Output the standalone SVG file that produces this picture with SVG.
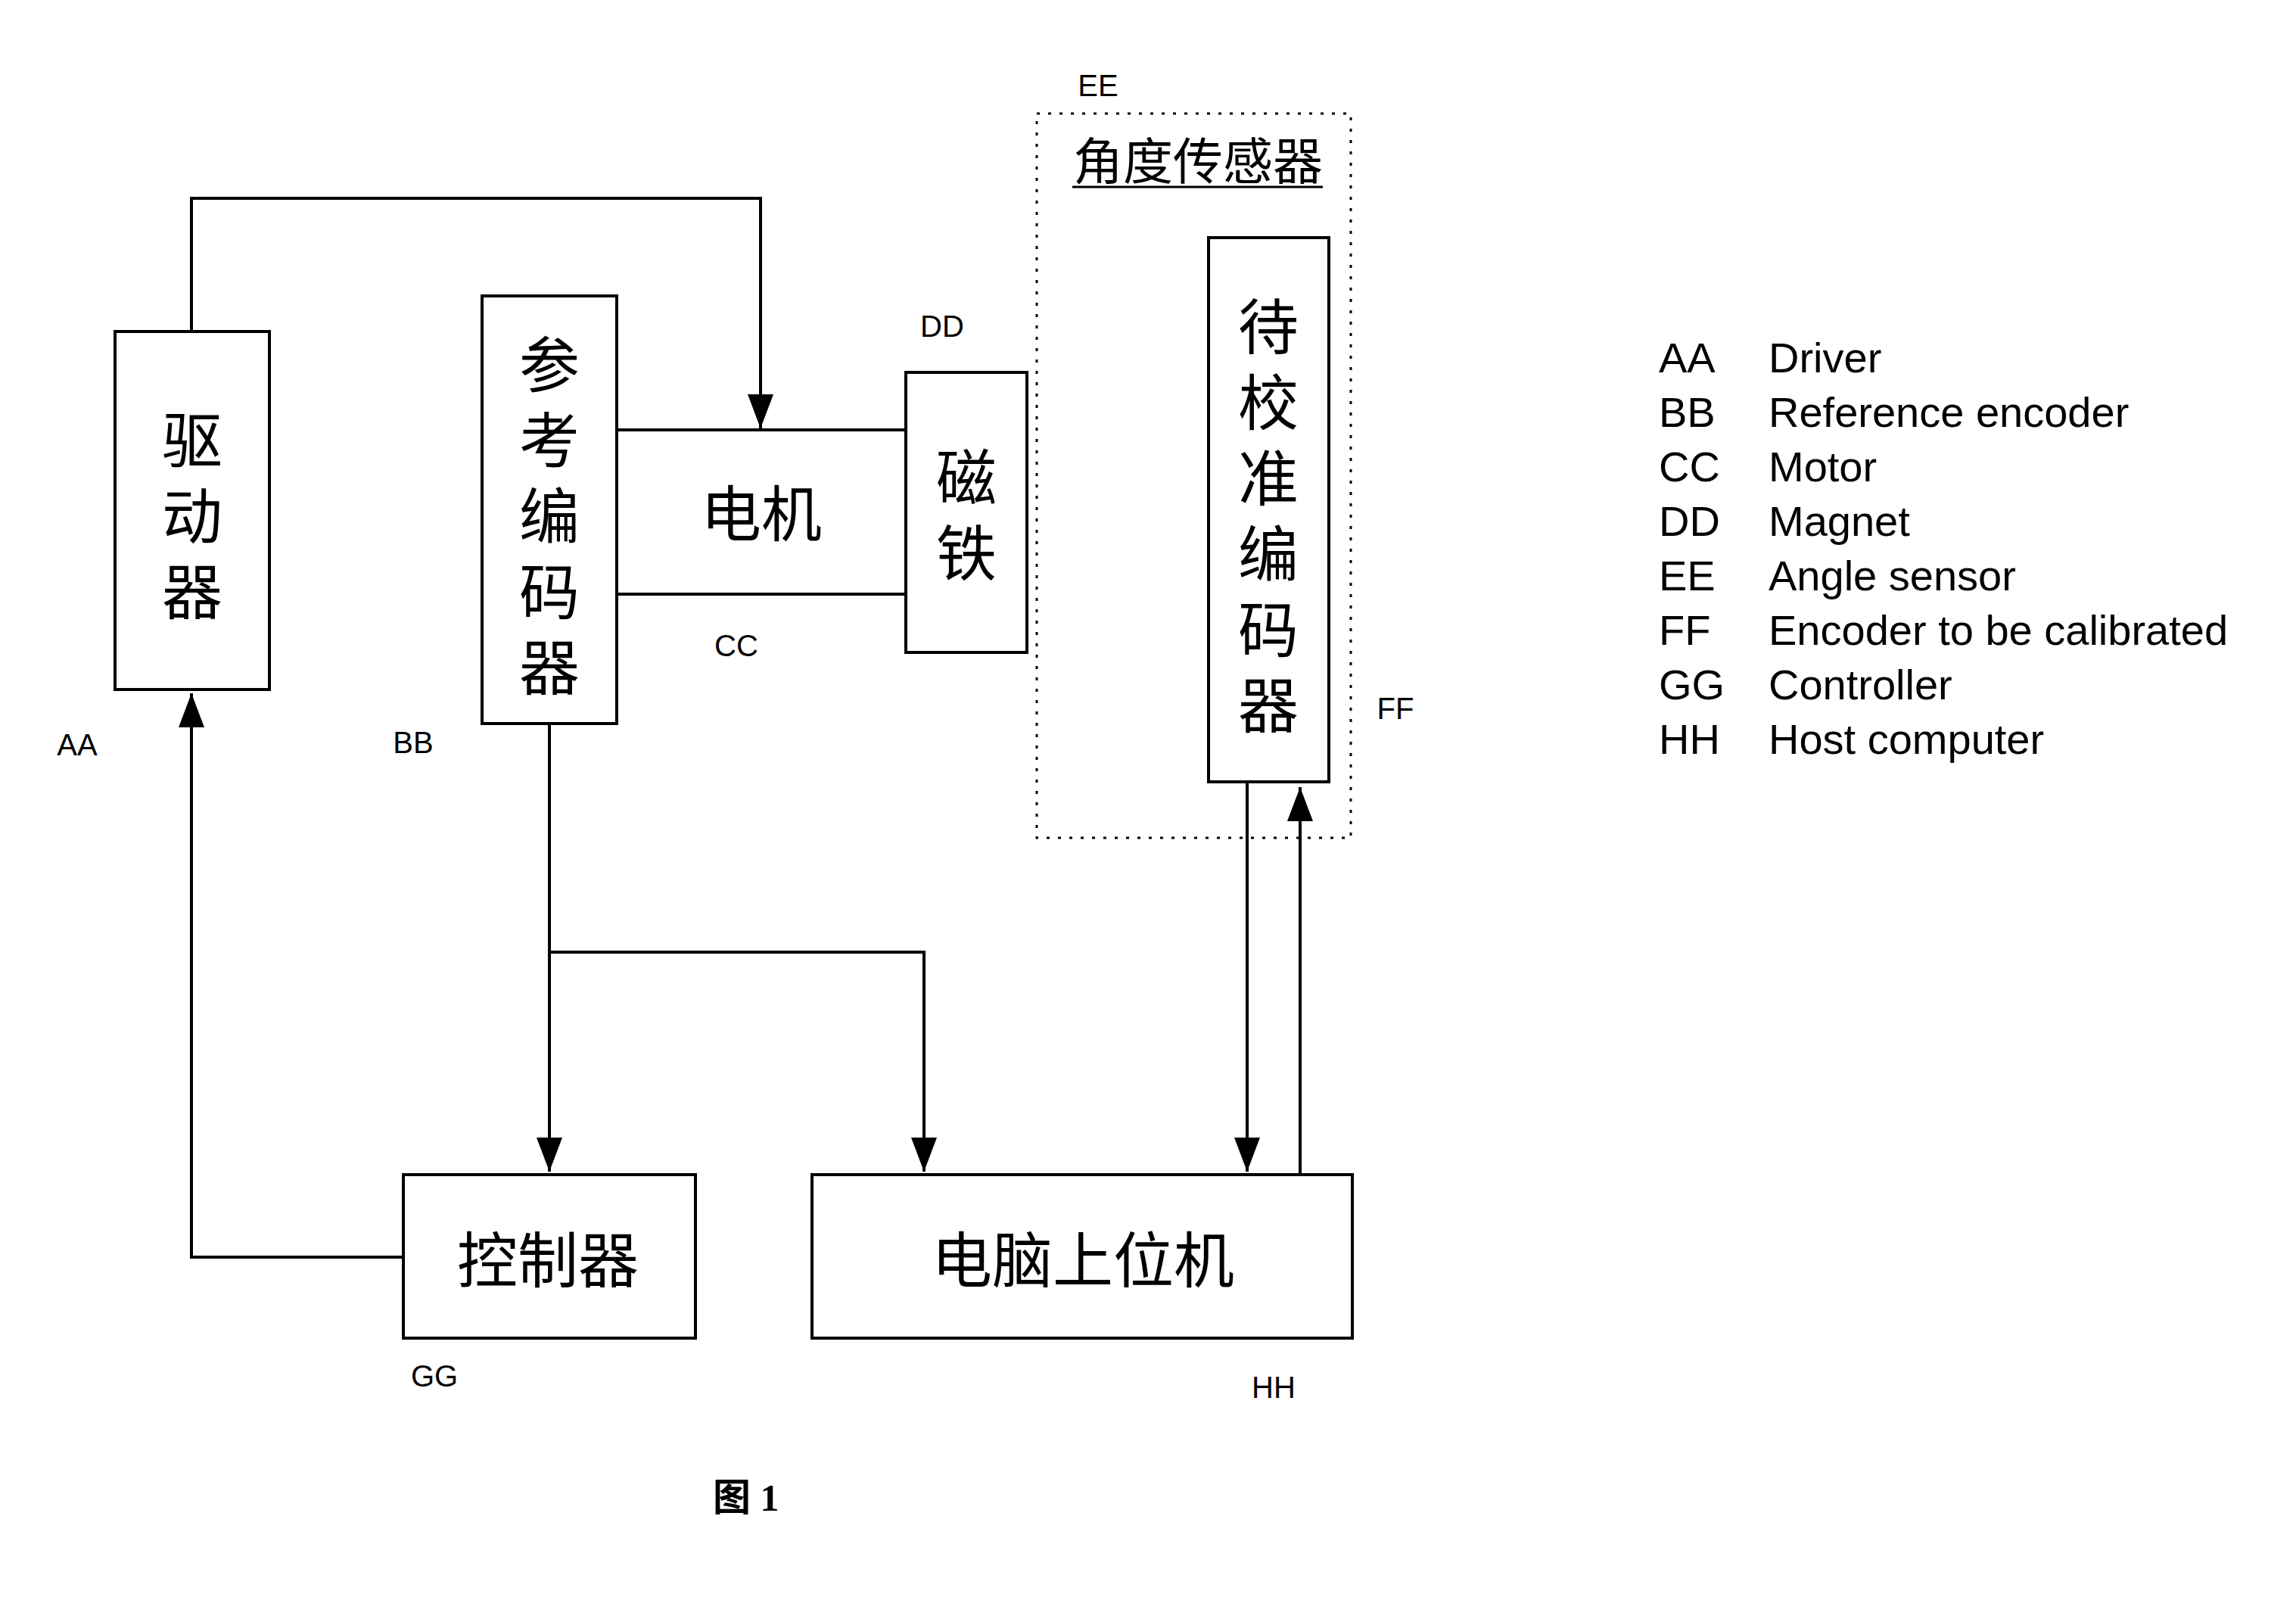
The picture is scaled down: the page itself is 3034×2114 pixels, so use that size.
<svg xmlns="http://www.w3.org/2000/svg" width="3034" height="2114" viewBox="0 0 3034 2114">
<defs>
<style>
.box{fill:none;stroke:#000;stroke-width:4}
.ln{fill:none;stroke:#000;stroke-width:4}
.dot{fill:none;stroke:#000;stroke-width:3;stroke-dasharray:4 11}
.cjk{font-family:"Noto Sans CJK SC",sans-serif;font-size:80px;text-anchor:middle;fill:#000}
.vt{writing-mode:vertical-rl;letter-spacing:20px}
.lab{font-family:"Liberation Sans",Arial,sans-serif;font-size:40px;text-anchor:middle;fill:#000}
.leg{font-family:"Liberation Sans",Arial,sans-serif;font-size:56px;fill:#000}
.cap{font-family:"Liberation Serif","Noto Sans CJK SC",serif;font-size:50px;fill:#000}
</style>
<marker id="arr" viewBox="0 0 45 34" refX="45" refY="17" markerWidth="45" markerHeight="34" markerUnits="userSpaceOnUse" orient="auto">
<path d="M0 0 L45 17 L0 34 Z" fill="#000"/>
</marker>
</defs>
<rect width="3034" height="2114" fill="#fff"/>

<g id="connectors">
<path class="ln" d="M253 438 V262 H1005 V566" marker-end="url(#arr)"/>
<path class="ln" d="M533 1661 H253 V916" marker-end="url(#arr)"/>
<path class="ln" d="M726 956 V1548" marker-end="url(#arr)"/>
<path class="ln" d="M726 1258 H1221 V1548" marker-end="url(#arr)"/>
<path class="ln" d="M1648 1033 V1548" marker-end="url(#arr)"/>
<path class="ln" d="M1718 1552 V1040" marker-end="url(#arr)"/>
</g>

<g id="driver">
<rect class="box" x="152" y="438" width="204" height="473"/>
<text class="cjk vt" x="254" y="691">驱动器</text>
<text class="lab" x="102" y="998">AA</text>
</g>

<g id="reference-encoder">
<rect class="box" x="637" y="391" width="178" height="565"/>
<text class="cjk vt" x="726" y="691">参考编码器</text>
<text class="lab" x="546" y="995">BB</text>
</g>

<g id="motor">
<line class="ln" x1="815" y1="568" x2="1197" y2="568"/>
<line class="ln" x1="815" y1="785" x2="1197" y2="785"/>
<text class="cjk" x="1006" y="708">电机</text>
<text class="lab" x="973" y="867">CC</text>
</g>

<g id="magnet">
<rect class="box" x="1197" y="492" width="160" height="370"/>
<text class="cjk vt" x="1277" y="690">磁铁</text>
<text class="lab" x="1245" y="445">DD</text>
</g>

<g id="angle-sensor">
<rect class="dot" x="1370" y="150" width="415" height="957"/>
<text class="cjk" x="1583" y="237" style="font-size:66px">角度传感器</text>
<line x1="1417" y1="247" x2="1748" y2="247" stroke="#000" stroke-width="3"/>
<text class="lab" x="1451" y="127">EE</text>
</g>

<g id="encoder-to-calibrate">
<rect class="box" x="1597" y="314" width="159" height="719"/>
<text class="cjk vt" x="1676" y="691">待校准编码器</text>
<text class="lab" x="1844" y="950">FF</text>
</g>

<g id="controller">
<rect class="box" x="533" y="1552" width="386" height="216"/>
<text class="cjk" x="724" y="1694">控制器</text>
<text class="lab" x="574" y="1832">GG</text>
</g>

<g id="host-computer">
<rect class="box" x="1073" y="1552" width="714" height="216"/>
<text class="cjk" x="1431" y="1694">电脑上位机</text>
<text class="lab" x="1683" y="1847">HH</text>
</g>

<g id="legend">
<text class="leg" x="2192" y="492">AA</text><text class="leg" x="2337" y="492">Driver</text>
<text class="leg" x="2192" y="564">BB</text><text class="leg" x="2337" y="564">Reference encoder</text>
<text class="leg" x="2192" y="636">CC</text><text class="leg" x="2337" y="636">Motor</text>
<text class="leg" x="2192" y="708">DD</text><text class="leg" x="2337" y="708">Magnet</text>
<text class="leg" x="2192" y="780">EE</text><text class="leg" x="2337" y="780">Angle sensor</text>
<text class="leg" x="2192" y="852">FF</text><text class="leg" x="2337" y="852">Encoder to be calibrated</text>
<text class="leg" x="2192" y="924">GG</text><text class="leg" x="2337" y="924">Controller</text>
<text class="leg" x="2192" y="996">HH</text><text class="leg" x="2337" y="996">Host computer</text>
</g>

<text class="cap" x="942" y="1996" style="font-weight:bold">图 1</text>
</svg>
